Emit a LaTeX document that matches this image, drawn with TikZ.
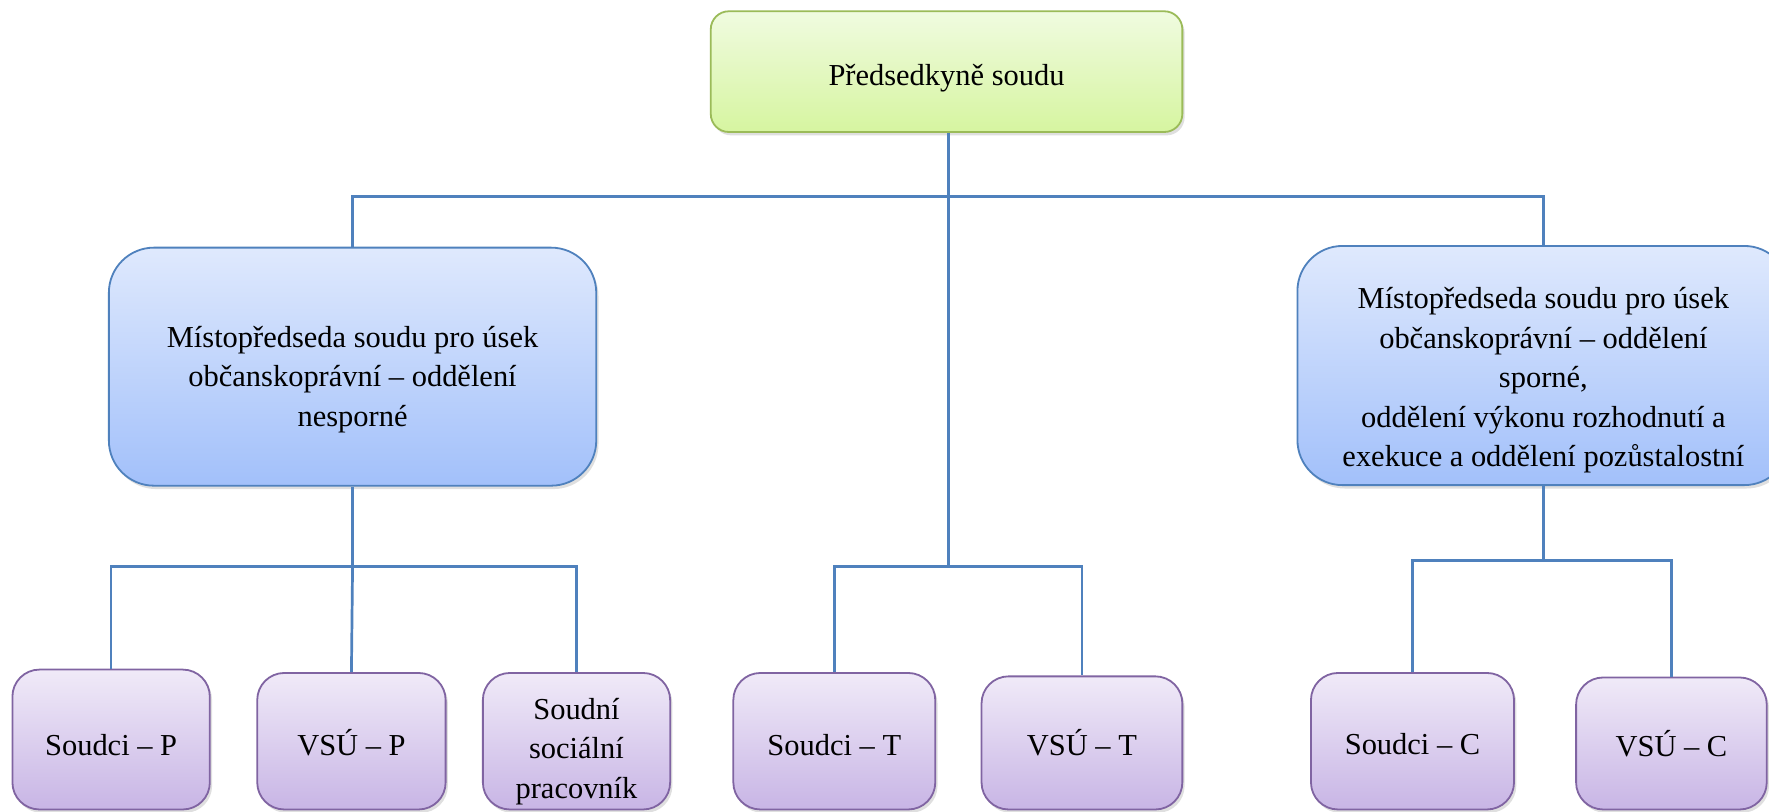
\documentclass[tikz,border=0pt]{standalone}
\usepackage{fontspec}
\setmainfont{Liberation Serif}
\usetikzlibrary{shadows}
\definecolor{lineblue}{HTML}{4F81BD}
\definecolor{gborder}{HTML}{9BBB59}
\definecolor{gtop}{HTML}{F0FBE0}
\definecolor{gbot}{HTML}{D6F5A0}
\definecolor{btop}{HTML}{DFE9FD}
\definecolor{bbot}{HTML}{A2C0FA}
\definecolor{pborder}{HTML}{8064A2}
\definecolor{ptop}{HTML}{F0EAF8}
\definecolor{pbot}{HTML}{C8B5E5}
\newcommand{\pushdown}[1]{\mbox{}\\[#1]}
\tikzset{
  boxbase/.style={draw, line width=1.6pt, align=center, inner sep=0pt,
    font=\fontsize{27}{35}\selectfont,
    drop shadow={shadow xshift=2pt, shadow yshift=-3pt, opacity=0.25}},
  topbox/.style={boxbase, draw=gborder, top color=gtop, bottom color=gbot,
    rounded corners=16pt, minimum width=418pt, minimum height=107pt},
  midbox/.style={boxbase, draw=lineblue, top color=btop, bottom color=bbot,
    rounded corners=40pt, minimum width=432pt, minimum height=211pt},
  leafbox/.style={boxbase, draw=pborder, top color=ptop, bottom color=pbot,
    rounded corners=24pt, minimum height=124pt},
  conn/.style={draw=lineblue, line width=2.4pt}
}
\begin{document}
\begin{tikzpicture}[x=1pt, y=-1pt]
\useasboundingbox (0,0) rectangle (1568,719);
\clip (0,0) rectangle (1568,719);
\fill[white] (0,0) rectangle (1568,719);

\coordinate (jtop) at (841,174);
\coordinate (jcen) at (841,502);
\coordinate (jleft) at (312.5,502);
\coordinate (jright) at (1368,497);

% nodes
\node[topbox] (top) at (839,63.5) {\pushdown{-4pt}Předsedkyně soudu};
\node[midbox] (mL) at (312.5,325) {\pushdown{6pt}Místopředseda soudu pro úsek\\občanskoprávní – oddělení\\nesporné};
\node[midbox, minimum width=436pt, minimum height=212pt] (mR) at (1368,324) {\pushdown{10pt}Místopředseda soudu pro úsek\\občanskoprávní – oddělení\\sporné,\\oddělení výkonu rozhodnutí a\\exekuce a oddělení pozůstalostní};

\node[leafbox, minimum width=175pt] (b1) at (98.5,655.5) {\pushdown{-6pt}Soudci – P};
\node[leafbox, minimum width=167pt, minimum height=121pt] (b2) at (311.5,657) {\pushdown{-10pt}VSÚ – P};
\node[leafbox, minimum width=166pt, minimum height=121pt] (b3) at (511,657) {\pushdown{2pt}Soudní\\sociální\\pracovník};
\node[leafbox, minimum width=179pt, minimum height=121pt] (b4) at (739.5,657) {\pushdown{-10pt}Soudci – T};
\node[leafbox, minimum width=178pt, minimum height=118pt] (b5) at (959,658.5) {\pushdown{-12pt}VSÚ – T};
\node[leafbox, minimum width=180pt, minimum height=121pt] (b6) at (1252,657) {\pushdown{-12pt}Soudci – C};
\node[leafbox, minimum width=169pt, minimum height=117pt] (b7) at (1481.5,659) {\pushdown{-12pt}VSÚ – C};

% connectors
\draw[conn] (top.south -| jtop) -- (jcen);
\draw[conn] (mL.north) -- (mL.north |- jtop) -- (mR.north |- jtop) -- (mR.north);
\draw[conn] (b4.north) -- (b4.north |- jcen) -- (b5.north |- jcen) -- (b5.north);
\draw[conn] (mL.south) -- (jleft);
\draw[conn] (b1.north) -- (b1.north |- jleft) -- (b3.north |- jleft) -- (b3.north);
\draw[conn] (jleft) -- (b2.north);
\draw[conn] (mR.south) -- (jright);
\draw[conn] (b6.north) -- (b6.north |- jright) -- (b7.north |- jright) -- (b7.north);
\end{tikzpicture}
\end{document}
